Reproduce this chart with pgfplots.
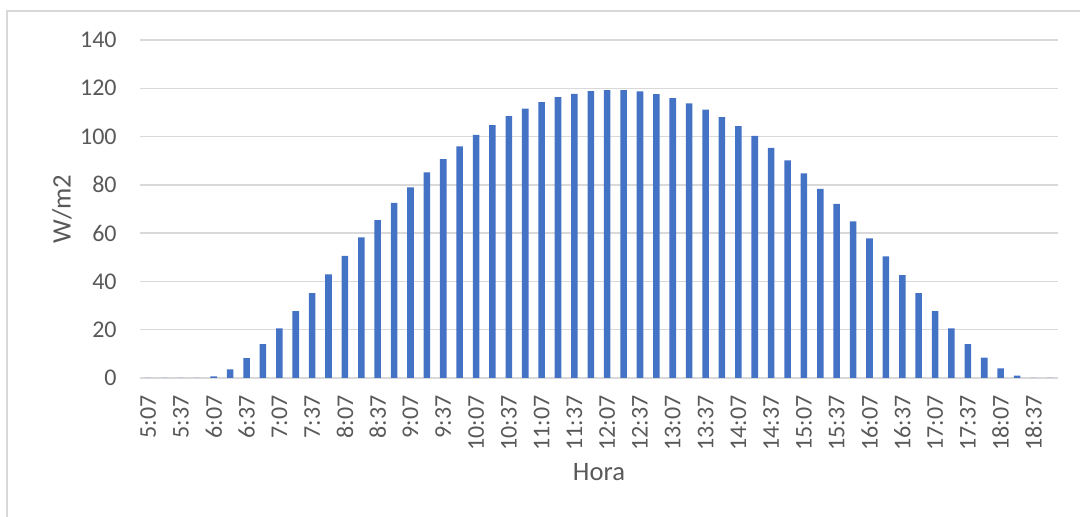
\documentclass[border=0pt]{standalone}
\usepackage{pgfplots}
\pgfplotsset{compat=1.18}
\usepackage{fontspec}
\setmainfont{Carlito}
\definecolor{barblue}{RGB}{68,114,196}
\definecolor{gridgray}{RGB}{217,217,217}
\definecolor{textgray}{RGB}{89,89,89}

\begin{document}
\begin{tikzpicture}
	% 1 px of the reference = 0.5pt
	\useasboundingbox (0,0) rectangle (540pt,258.5pt);
	\draw[gridgray, line width=0.75pt] (3.5pt,0) -- (3.5pt,253pt) -- (540pt,253pt);

	\begin{axis}[
		at = {(70pt,69.5pt)},
		anchor = south west,
		scale only axis,
		width = 459pt,
		height = 169pt,
		xmin = -0.5, xmax = 55.5,
		ymin = 0, ymax = 140,
		ytick = {0,20,...,140},
		xtick = {0,2,...,54},
		xticklabels = {5:07,5:37,6:07,6:37,7:07,7:37,8:07,8:37,9:07,9:37,10:07,10:37,11:07,11:37,12:07,12:37,13:07,13:37,14:07,14:37,15:07,15:37,16:07,16:37,17:07,17:37,18:07,18:37},
		axis line style = {draw=none},
		major tick length = 0pt,
		ymajorgrids,
		grid style = {draw=gridgray, line width=0.75pt},
		/pgf/number format/assume math mode = true,
		tick label style = {font=\fontsize{12}{14}\selectfont, text=textgray},
		yticklabel style = {anchor=east, inner sep=0pt, xshift=-11.5pt},
		xticklabel style = {rotate=90, anchor=east, inner sep=0pt, xshift=-8.5pt},
		xlabel = {Hora},
		ylabel = {W/m2},
		every axis x label/.style = {at={(axis description cs:0.5,-0.278)}, anchor=center,
			font=\fontsize{13.3}{15}\selectfont, text=textgray},
		every axis y label/.style = {at={(axis description cs:-0.085,0.5)}, anchor=center, rotate=90,
			font=\fontsize{13.3}{15}\selectfont, text=textgray},
		ybar,
		bar width = 0.4,
	]
		\addplot[fill=barblue, draw=none] coordinates {
			(0,0) (1,0) (2,0) (3,0) (4,0.7) (5,3.6) (6,8.2) (7,14.0)
			(8,20.5) (9,27.7) (10,35.1) (11,42.9) (12,50.6) (13,58.2) (14,65.4) (15,72.5)
			(16,79.0) (17,85.2) (18,90.7) (19,95.9) (20,100.7) (21,104.7) (22,108.5) (23,111.6)
			(24,114.3) (25,116.3) (26,117.7) (27,118.8) (28,119.2) (29,119.2) (30,118.7) (31,117.6)
			(32,115.9) (33,113.7) (34,111.2) (35,108.0) (36,104.3) (37,100.3) (38,95.3) (39,90.1)
			(40,84.7) (41,78.3) (42,72.1) (43,64.9) (44,57.8) (45,50.4) (46,42.6) (47,35.1)
			(48,27.7) (49,20.5) (50,14.0) (51,8.4) (52,4.0) (53,1.0) (54,0) (55,0)
		};
	\end{axis}
\end{tikzpicture}
\end{document}
